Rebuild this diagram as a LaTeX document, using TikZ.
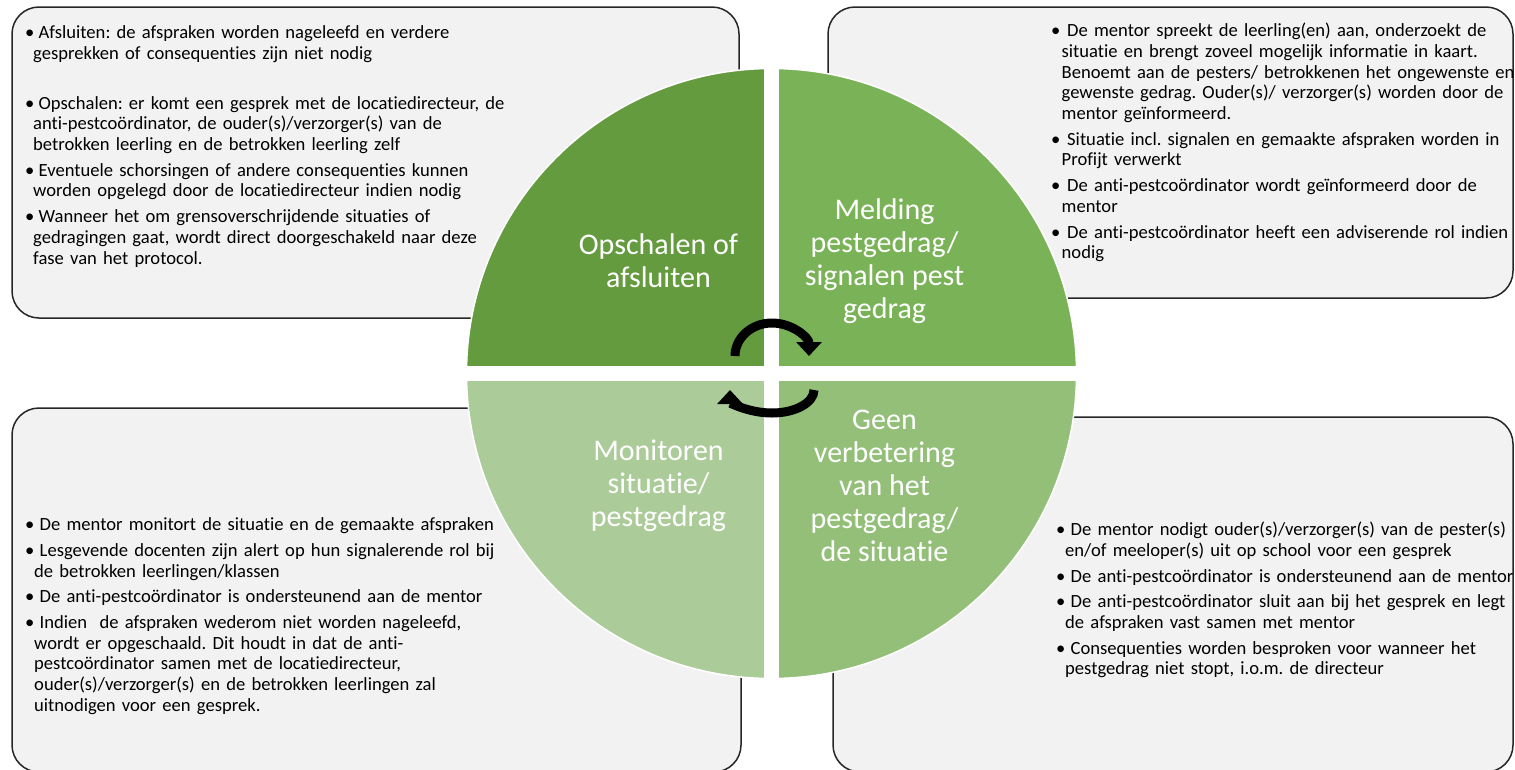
\documentclass[tikz,border=0pt]{standalone}
\usepackage{fontspec}
\setmainfont{Carlito}[Ligatures=NoCommon]
\usetikzlibrary{arrows.meta}

\definecolor{phaseA}{RGB}{101,155,63}
\definecolor{phaseB}{RGB}{122,179,87}
\definecolor{phaseC}{RGB}{147,191,120}
\definecolor{phaseD}{RGB}{171,203,153}
\definecolor{boxfill}{RGB}{242,242,242}
\definecolor{boxline}{RGB}{38,38,38}

% bullet item with hanging indent
\newcommand{\itm}[2][9pt]{\par\hangindent=#1\hangafter=1\noindent\makebox[\dimexpr#1+5.5pt\relax][l]{\textbullet}#2\par}
\newcommand{\nl}{\newline}

\begin{document}
\begin{tikzpicture}[x=1pt, y=-1pt,
    infobox/.style={draw=boxline, line width=1.5pt, fill=boxfill, rounded corners=27pt},
    infotext/.style={anchor=base west, inner sep=0pt, text width=700pt,
        font=\fontsize{18.6}{20.7}\selectfont, execute at begin node={\parskip=5pt\frenchspacing}},
    phase/.style={text=white, align=center, font=\fontsize{30}{33}\selectfont},
    cycle arrow/.style={line width=9pt, -{Triangle[width=25pt, length=14pt]}}]

    \useasboundingbox (0,0) rectangle (1515,769);

    % Boxes
    \draw[infobox] (12,7) rectangle (739,318);
    \draw[infobox] (828,7) rectangle (1513,298);
    \draw[infobox] (12,408) rectangle (741,772);
    \draw[infobox] (833,417) rectangle (1513,772);

    % Circle in four phases
    \coordinate (hub) at (771.5,373.5);
    \foreach \a/\col in {180/phaseA, 270/phaseB, 0/phaseC, 90/phaseD}
        \fill[\col] (hub) -- ++(\a:305) arc[start angle=\a, delta angle=90, radius=305] -- cycle;
    \draw[white, line width=1.5pt] (hub) circle[radius=305];
    \draw[white, line width=15pt] (466,373.5) -- (1077,373.5);
    \draw[white, line width=15pt] (771.5,68) -- (771.5,679);

    % Phase labels
    \node[phase] (opschalen) at (658.5,261) {Opschalen of\\afsluiten};
    \node[phase] (melding) at (884.5,261) {Melding\\pestgedrag/\\signalen pest\\gedrag};
    \node[phase] (geen) at (884.5,486) {Geen\\verbetering\\van het\\pestgedrag/\\de situatie};
    \node[phase] (monitoren) at (658.5,486) {Monitoren\\situatie/\\pestgedrag};

    % Cycle arrows
    \draw[cycle arrow] (735,356) arc[start angle=180, end angle=360, x radius=37, y radius=33];
    \draw[cycle arrow] (814,390) arc[start angle=0, end angle=180, x radius=42, y radius=23];

    % Box texts
    \node[infotext] (tltext) at (25,13) {%
        \itm[8pt]{Afsluiten: de afspraken worden nageleefd en verdere\nl gesprekken of consequenties zijn niet nodig}
        \vspace{24pt}
        \itm[8pt]{Opschalen: er komt een gesprek met de locatiedirecteur, de\nl anti-pestcoördinator, de ouder(s)/verzorger(s) van de\nl betrokken leerling en de betrokken leerling zelf}
        \itm[8pt]{Eventuele schorsingen of andere consequenties kunnen\nl worden opgelegd door de locatiedirecteur indien nodig}
        \itm[8pt]{Wanneer het om grensoverschrijdende situaties of\nl gedragingen gaat, wordt direct doorgeschakeld naar deze\nl fase van het protocol.}};
    \node[infotext] (trtext) at (1051,11) {%
        \itm[10.5pt]{De mentor spreekt de leerling(en) aan, onderzoekt de\nl situatie en brengt zoveel mogelijk informatie in kaart.\nl Benoemt aan de pesters/ betrokkenen het ongewenste en\nl gewenste gedrag. Ouder(s)/ verzorger(s) worden door de\nl mentor geïnformeerd.}
        \itm[10.5pt]{Situatie incl. signalen en gemaakte afspraken worden in\nl Profijt verwerkt}
        \itm[10.5pt]{De anti-pestcoördinator wordt geïnformeerd door de\nl mentor}
        \itm[10.5pt]{De anti-pestcoördinator heeft een adviserende rol indien\nl nodig}};
    \node[infotext] (bltext) at (25,505) {%
        \itm{De mentor monitort de situatie en de gemaakte afspraken}
        \itm{Lesgevende docenten zijn alert op hun signalerende rol bij\nl de betrokken leerlingen/klassen}
        \itm{De anti-pestcoördinator is ondersteunend aan de mentor}
        \itm{Indien\ \ de afspraken wederom niet worden nageleefd,\nl wordt er opgeschaald. Dit houdt in dat de anti-\nl pestcoördinator samen met de locatiedirecteur,\nl ouder(s)/verzorger(s) en de betrokken leerlingen zal\nl uitnodigen voor een gesprek.}};
    \node[infotext] (brtext) at (1056,510) {%
        \itm{De mentor nodigt ouder(s)/verzorger(s) van de pester(s)\nl en/of meeloper(s) uit op school voor een gesprek}
        \itm{De anti-pestcoördinator is ondersteunend aan de mentor}
        \itm{De anti-pestcoördinator sluit aan bij het gesprek en legt\nl de afspraken vast samen met mentor}
        \itm{Consequenties worden besproken voor wanneer het\nl pestgedrag niet stopt, i.o.m. de directeur}};

\end{tikzpicture}
\end{document}
